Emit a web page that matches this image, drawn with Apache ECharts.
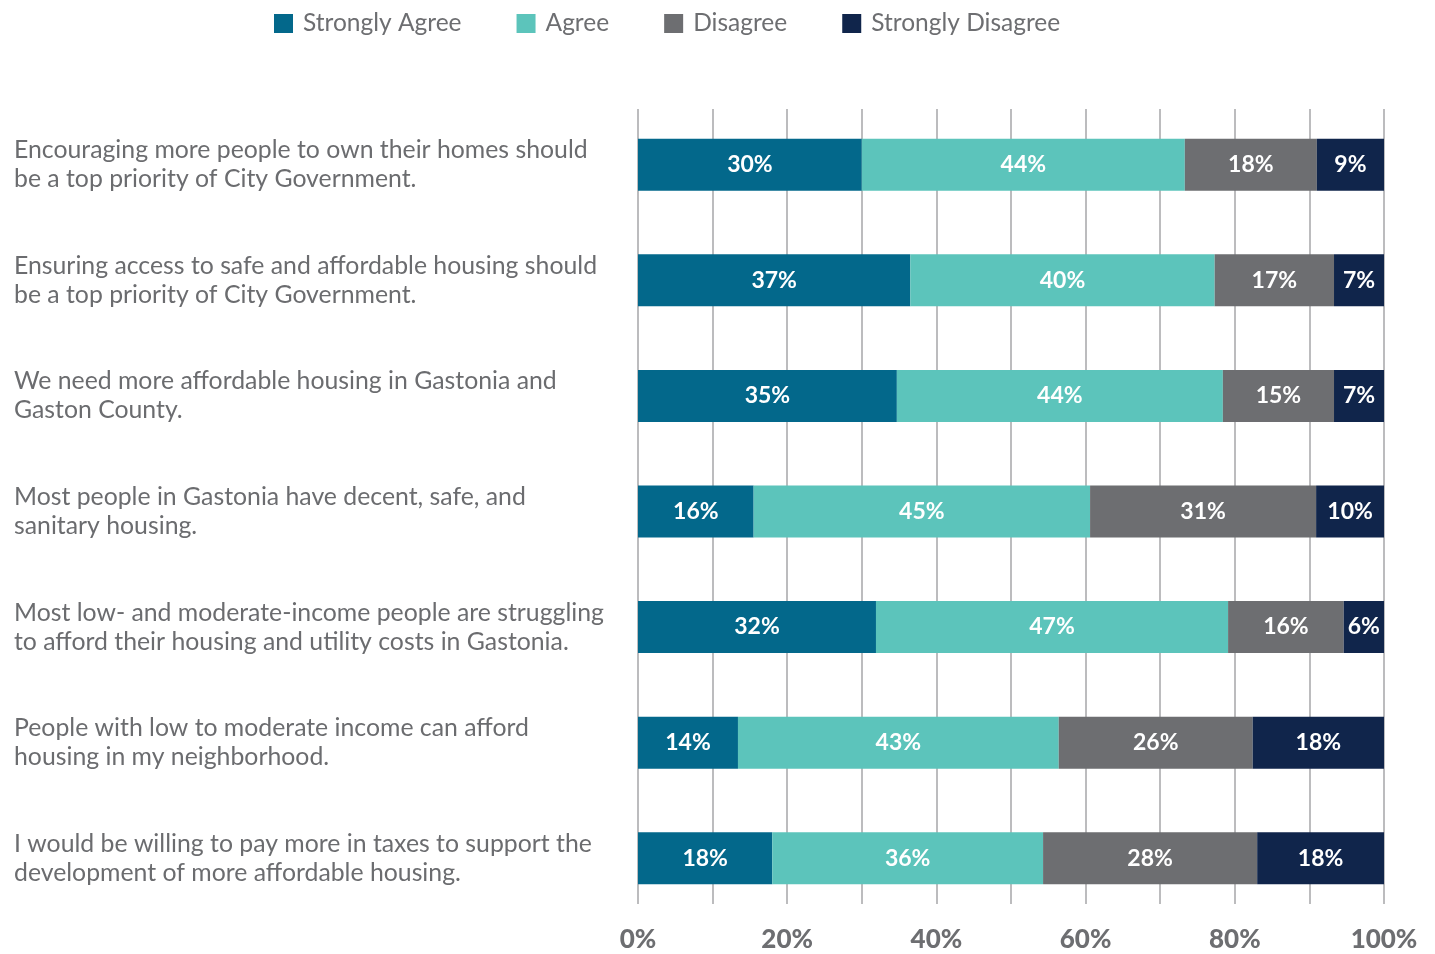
<!DOCTYPE html>
<html>
<head>
<meta charset="utf-8">
<script src="https://cdn.jsdelivr.net/npm/echarts@6/dist/echarts.min.js"></script>
<style>
html,body{margin:0;padding:0;background:#fff;}
#chart{width:1435px;height:954px;}
</style>
</head>
<body>
<div id="chart"></div>
<script>
// ---- data ----
var categories = [
  "Encouraging more people to own their homes should\nbe a top priority of City Government.",
  "Ensuring access to safe and affordable housing should\nbe a top priority of City Government.",
  "We need more affordable housing in Gastonia and\nGaston County.",
  "Most people in Gastonia have decent, safe, and\nsanitary housing.",
  "Most low- and moderate-income people are struggling\nto afford their housing and utility costs in Gastonia.",
  "People with low to moderate income can afford\nhousing in my neighborhood.",
  "I would be willing to pay more in taxes to support the\ndevelopment of more affordable housing."
];
var seriesNames = ["Strongly Agree", "Agree", "Disagree", "Strongly Disagree"];
// displayed percentages (labels)
var stronglyAgreeLabel    = [30, 37, 35, 16, 32, 14, 18];
var agreeLabel            = [44, 40, 44, 45, 47, 43, 36];
var disagreeLabel         = [18, 17, 15, 31, 16, 26, 28];
var stronglyDisagreeLabel = [9, 7, 7, 10, 6, 18, 18];
// bar shares as drawn (% of row)
var stronglyAgreeShare    = [30.0, 36.5, 34.7, 15.5, 31.9, 13.4, 18.0];
var agreeShare            = [43.3, 40.8, 43.7, 45.1, 47.2, 43.0, 36.3];
var disagreeShare         = [17.7, 16.0, 14.9, 30.3, 15.5, 26.0, 28.7];
var stronglyDisagreeShare = [9.0, 6.7, 6.7, 9.1, 5.4, 17.6, 17.0];
var xTicks = [0, 20, 40, 60, 80, 100];

var colors = ["#03688b", "#5cc4bb", "#6d6e71", "#10254b"];
var FONT = "Lato, 'Open Sans', sans-serif";

var shares = [stronglyAgreeShare, agreeShare, disagreeShare, stronglyDisagreeShare];
var labels = [stronglyAgreeLabel, agreeLabel, disagreeLabel, stronglyDisagreeLabel];

var series = seriesNames.map(function (name, i) {
  return {
    name: name,
    type: "bar",
    stack: "total",
    xAxisIndex: 0,
    yAxisIndex: 0,
    barWidth: 52,
    itemStyle: { color: colors[i] },
    label: {
      show: true,
      position: "inside",
      color: "#ffffff",
      fontFamily: FONT,
      fontWeight: "bold",
      fontSize: 23,
      formatter: function (p) { return labels[i][p.dataIndex] + "%"; }
    },
    data: shares[i]
  };
});

var chart = echarts.init(document.getElementById("chart"), null, { renderer: "canvas" });
chart.setOption({
  animation: false,
  color: colors,
  legend: {
    data: seriesNames,
    left: 269,
    top: 6,
    icon: "rect",
    itemWidth: 19,
    itemHeight: 19,
    itemGap: 55,
    textStyle: { fontFamily: FONT, fontSize: 24.5, color: "#6d6e71", padding: [0, 0, 0, 5] }
  },
  grid: [
    { left: 638, width: 746, top: 107, height: 809 },
    { left: 638, width: 746, top: 109, height: 795 }
  ],
  xAxis: [
    { gridIndex: 0, type: "value", min: 0, max: 100, show: false },
    {
      gridIndex: 1, type: "value", min: 0, max: 100, interval: 10,
      axisLine: { show: false },
      axisTick: { show: false },
      splitLine: { show: true, lineStyle: { color: "#bcbcbe", width: 2 } },
      axisLabel: {
        margin: 23,
        fontFamily: FONT,
        fontWeight: 900,
        fontSize: 26,
        color: "#6d6e71",
        formatter: function (v) { return xTicks.indexOf(v) >= 0 ? v + "%" : ""; }
      }
    }
  ],
  yAxis: [
    {
      gridIndex: 0, type: "category", data: categories, inverse: true,
      axisLine: { show: false },
      axisTick: { show: false },
      splitLine: { show: false },
      axisLabel: {
        align: "left",
        margin: 624,
        fontFamily: FONT,
        fontSize: 24.8,
        lineHeight: 29,
        color: "#6b6c6f"
      }
    },
    { gridIndex: 1, type: "value", show: false }
  ],
  series: series
});
</script>
</body>
</html>
